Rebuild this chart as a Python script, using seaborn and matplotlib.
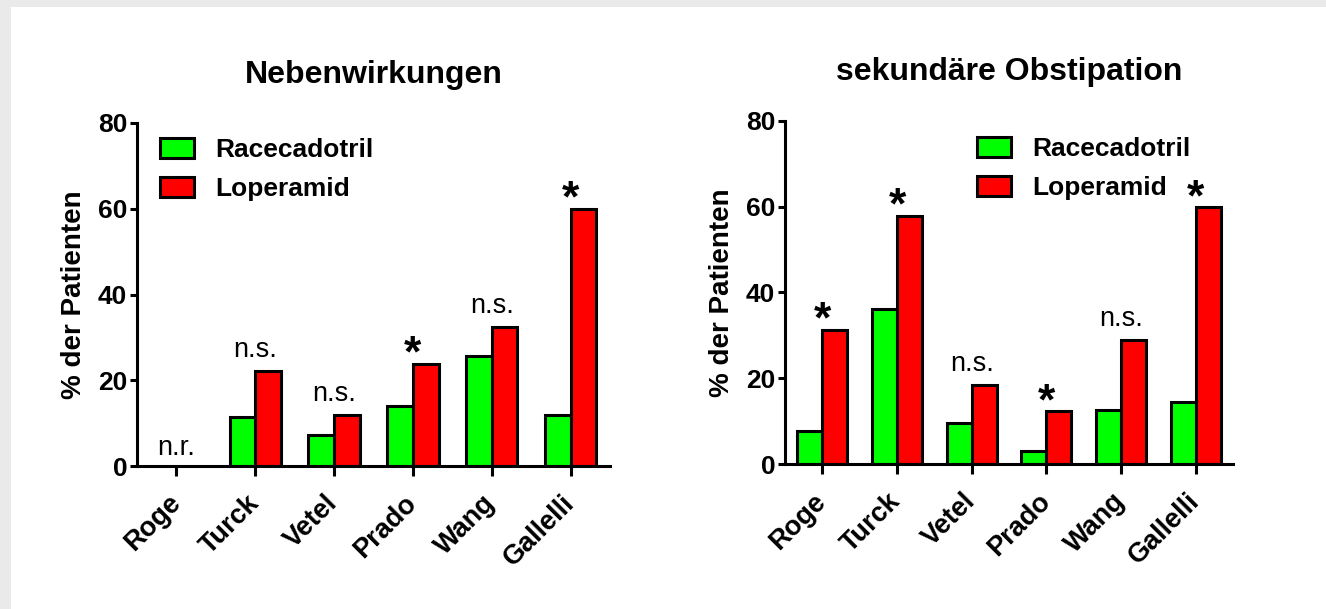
import numpy as np
import pandas as pd
import seaborn as sns
import matplotlib
matplotlib.use("Agg")
import matplotlib.pyplot as plt
from matplotlib.patches import Patch, Rectangle

# --- data -------------------------------------------------------------
studies = ["Roge", "Turck", "Vetel", "Prado", "Wang", "Gallelli"]
groups = ["Racecadotril", "Loperamid"]
colors = {"Racecadotril": "#00ff00", "Loperamid": "#ff0000"}

# Nebenwirkungen (% der Patienten); Roge: nicht berichtet
nw_racecadotril = [np.nan, 11.4, 7.3, 14.0, 25.6, 11.8]
nw_loperamid = [np.nan, 22.1, 12.0, 23.9, 32.5, 60.0]
nw_marks = ["n.r.", "n.s.", "n.s.", "*", "n.s.", "*"]

# sekundäre Obstipation (% der Patienten)
ob_racecadotril = [7.8, 36.2, 9.7, 3.1, 12.6, 14.6]
ob_loperamid = [31.3, 57.8, 18.5, 12.3, 28.9, 59.8]
ob_marks = ["*", "*", "n.s.", "*", "n.s.", "*"]

yticks = [0, 20, 40, 60, 80]

# --- style ------------------------------------------------------------
sns.set_style("ticks")
plt.rcParams["font.family"] = ["Liberation Sans", "DejaVu Sans"]
plt.rcParams["font.weight"] = "bold"
for key in ("text.color", "axes.labelcolor", "xtick.color", "ytick.color",
            "axes.edgecolor"):
    plt.rcParams[key] = "black"

W, H = 1326, 609
fig = plt.figure(figsize=(W / 100, H / 100), dpi=100)
fig.patch.set_facecolor("#eaeaea")
fig.add_artist(Rectangle((11 / W, 0), 1, (H - 7) / H, transform=fig.transFigure,
                         facecolor="white", edgecolor="none", zorder=-10))

LW = 2.2


def long_frame(rac, lop):
    return pd.DataFrame({
        "Studie": studies * 2,
        "Gruppe": [groups[0]] * len(studies) + [groups[1]] * len(studies),
        "Wert": list(rac) + list(lop),
    })


def panel(rect, title, rac, lop, marks, bar_width, legend_xy):
    ax = fig.add_axes(rect)
    ax.set_facecolor("none")
    df = long_frame(rac, lop)
    sns.barplot(data=df, x="Studie", y="Wert", hue="Gruppe", order=studies,
                hue_order=groups, palette=colors, saturation=1, width=bar_width,
                edgecolor="black", linewidth=LW, errorbar=None, ax=ax,
                legend=False)
    ax.set_ylim(0, 80)
    ax.set_xlim(-0.5, 5.5)
    ax.set_yticks(yticks)
    ax.set_xlabel("")
    ax.set_ylabel("% der Patienten", fontsize=20, fontweight="bold", labelpad=8)
    ax.set_title(title, fontsize=23, fontweight="bold", pad=29)
    sns.despine(ax=ax)
    for s in ("left", "bottom"):
        ax.spines[s].set_linewidth(LW)
        ax.spines[s].set_color("black")
    ax.tick_params(axis="y", length=5, width=LW, labelsize=19, pad=2, colors="black")
    ax.tick_params(axis="x", length=7, width=LW, labelsize=19.5, pad=17, colors="black")
    for lab in ax.get_xticklabels():
        lab.set_rotation(45)
        lab.set_ha("right")
        lab.set_va("center")
        lab.set_rotation_mode("anchor")
        lab.set_fontweight("bold")
    for lab in ax.get_yticklabels():
        lab.set_fontweight("bold")

    for i, m in enumerate(marks):
        vals = [v for v in (rac[i], lop[i]) if not np.isnan(v)]
        top = max(vals) if vals else 0.0
        if m == "*":
            ax.annotate(m, xy=(i, top), xytext=(0, -2), textcoords="offset points",
                        ha="center", va="baseline", fontsize=32, fontweight="bold")
        else:
            ax.annotate(m, xy=(i, top), xytext=(0, 10 if top > 0 else 8),
                        textcoords="offset points", ha="center", va="baseline",
                        fontsize=19.5, fontweight="normal")

    handles = [Patch(facecolor=colors[g], edgecolor="black", linewidth=LW, label=g)
               for g in groups]
    ax.legend(handles=handles, loc="upper left", bbox_to_anchor=legend_xy,
              frameon=False, borderpad=0, borderaxespad=0, handlelength=1.3,
              handleheight=0.76, handletextpad=0.8, labelspacing=0.57,
              prop={"size": 19, "weight": "bold"})
    return ax


panel([137 / W, 1 - 466 / H, (610 - 137) / W, 343 / H], "Nebenwirkungen",
      nw_racecadotril, nw_loperamid, nw_marks, 0.65, (0.0486, 0.956))
panel([785 / W, 1 - 464.3 / H, (1233 - 785) / W, 343.6 / H], "sekundäre Obstipation",
      ob_racecadotril, ob_loperamid, ob_marks, 0.67, (0.4286, 0.952))

fig.savefig("out.png", dpi=100, facecolor=fig.get_facecolor())
